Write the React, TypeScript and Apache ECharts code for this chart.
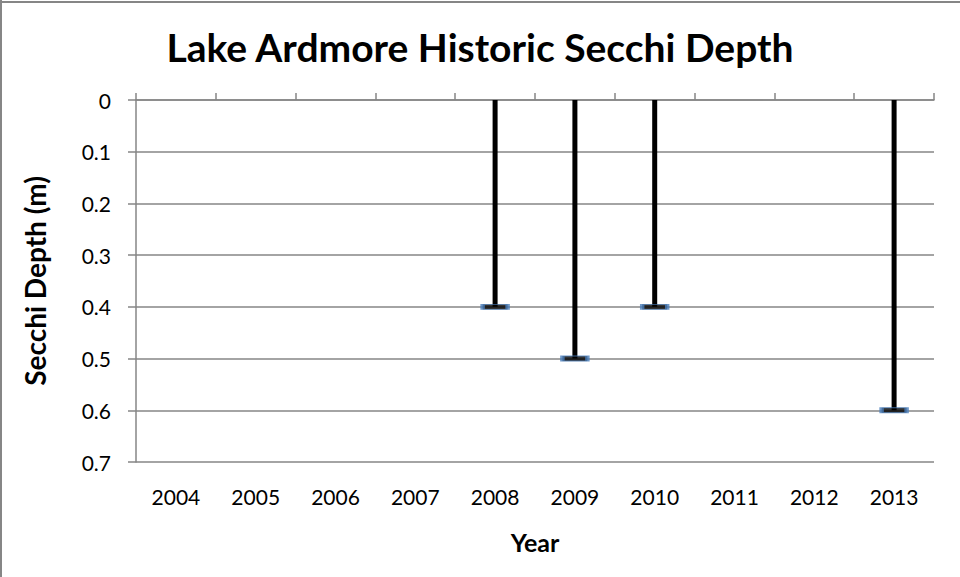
import React, { useEffect, useRef } from "react";
import * as echarts from "echarts";

const years = ["2004", "2005", "2006", "2007", "2008", "2009", "2010", "2011", "2012", "2013"];
const secchiDepth: (number | null)[] = [null, null, null, null, 0.4, 0.5, 0.4, null, null, 0.6];
const yTicks = [0, 0.1, 0.2, 0.3, 0.4, 0.5, 0.6, 0.7];

const FONT = "Lato, 'Open Sans', sans-serif";

export default function App() {
  const ref = useRef<HTMLDivElement>(null);
  useEffect(() => {
    if (!ref.current) return;
    const chart = echarts.init(ref.current, null, { renderer: "svg" });
    const grey = "#868686";
    chart.setOption({
      animation: false,
      backgroundColor: "#ffffff",
      textStyle: { fontFamily: FONT },
      title: {
        text: "Lake Ardmore Historic Secchi Depth",
        left: "center",
        top: 22,
        textStyle: { fontFamily: FONT, fontWeight: "bold", fontSize: 39, color: "#000" },
      },
      grid: { left: 136, right: 26, top: 100, bottom: 115 },
      xAxis: [
        {
          type: "category",
          data: years,
          position: "top",
          boundaryGap: true,
          axisLine: { show: true, onZero: false, lineStyle: { color: grey, width: 1.5 } },
          axisTick: { show: true, inside: false, length: 7, alignWithLabel: false, lineStyle: { color: grey, width: 1.5 } },
          axisLabel: { show: false },
          splitLine: { show: false },
        },
        {
          type: "category",
          data: years,
          position: "bottom",
          boundaryGap: true,
          axisLine: { show: false },
          axisTick: { show: false },
          axisLabel: { show: true, margin: 24, fontSize: 21, color: "#000", fontFamily: FONT },
          name: "Year",
          nameLocation: "middle",
          nameGap: 67,
          nameTextStyle: { fontWeight: "bold", fontSize: 25, color: "#000", fontFamily: FONT },
        },
      ],
      yAxis: {
        type: "value",
        inverse: true,
        min: 0,
        max: 0.7,
        interval: 0.1,
        axisLine: { show: true, lineStyle: { color: grey, width: 1.5 } },
        axisTick: { show: true, inside: false, length: 8, lineStyle: { color: grey, width: 1.5 } },
        axisLabel: {
          fontSize: 21,
          color: "#000",
          margin: 25,
          fontFamily: FONT,
          formatter: (v: number) => {
            const t = yTicks.find((x) => Math.abs(x - v) < 1e-9);
            return t === undefined ? "" : String(t);
          },
        },
        splitLine: { show: true, lineStyle: { color: grey, width: 1.5 } },
        name: "Secchi Depth (m)",
        nameLocation: "middle",
        nameGap: 87,
        nameRotate: 90,
        nameTextStyle: { fontWeight: "bold", fontSize: 28, color: "#000", fontFamily: FONT },
      },
      series: [
        {
          type: "bar",
          xAxisIndex: 0,
          data: secchiDepth,
          barWidth: 5,
          itemStyle: { color: "#000" },
          silent: true,
        },
        {
          type: "scatter",
          xAxisIndex: 0,
          data: secchiDepth,
          symbol: "rect",
          symbolSize: [25, 5],
          itemStyle: { color: "#000", borderColor: "#4a7ebb", borderWidth: 2 },
          z: 5,
        },
      ],
      graphic: [
        { type: "line", shape: { x1: 1, y1: 0, x2: 1, y2: 577 }, style: { stroke: grey, lineWidth: 2 } },
        { type: "line", shape: { x1: 0, y1: 2, x2: 960, y2: 2 }, style: { stroke: grey, lineWidth: 2 } },
      ],
    });
    return () => chart.dispose();
  }, []);
  return <div ref={ref} style={{ width: 960, height: 577, position: "absolute", left: 0, top: 0 }} />;
}
